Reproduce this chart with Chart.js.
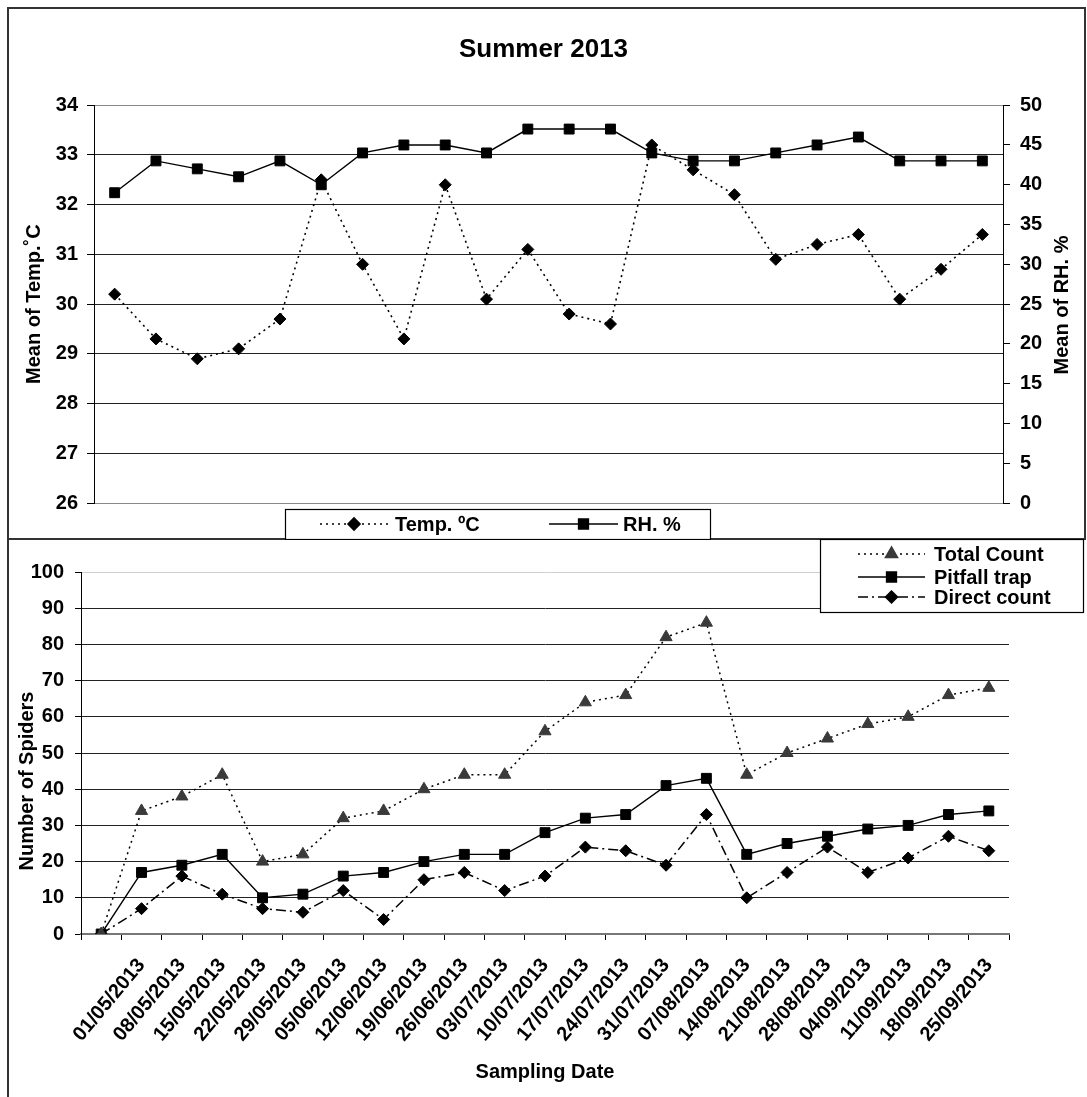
<!DOCTYPE html>
<html>
<head>
<meta charset="utf-8">
<script src="https://cdn.jsdelivr.net/npm/chart.js@4.4.1/dist/chart.umd.min.js"></script>
<style>
  html, body { margin: 0; padding: 0; background: #fff; }
  canvas { position: absolute; left: 0; }
  #c1 { top: 0; }
  #c2 { top: 539px; }
</style>
</head>
<body>
<canvas id="c1" width="1087" height="540"></canvas>
<canvas id="c2" width="1087" height="558"></canvas>
<script>
// sampling dates (weekly)
var dates = ["01/05/2013", "08/05/2013", "15/05/2013", "22/05/2013", "29/05/2013", "05/06/2013",
  "12/06/2013", "19/06/2013", "26/06/2013", "03/07/2013", "10/07/2013", "17/07/2013", "24/07/2013",
  "31/07/2013", "07/08/2013", "14/08/2013", "21/08/2013", "28/08/2013", "04/09/2013", "11/09/2013",
  "18/09/2013", "25/09/2013"];

// top chart
var tempC = [30.2, 29.3, 28.9, 29.1, 29.7, 32.5, 30.8, 29.3, 32.4, 30.1, 31.1, 29.8, 29.6, 33.2, 32.7, 32.2, 30.9, 31.2, 31.4, 30.1, 30.7, 31.4];
var rhPct = [39, 43, 42, 41, 43, 40, 44, 45, 45, 44, 47, 47, 47, 44, 43, 43, 44, 45, 46, 43, 43, 43];

// bottom chart (first point is the start, no date label)
var spiderLabels = [""].concat(dates);
var totalCount = [0, 34, 38, 44, 20, 22, 32, 34, 40, 44, 44, 56, 64, 66, 82, 86, 44, 50, 54, 58, 60, 66, 68];
var pitfall = [0, 17, 19, 22, 10, 11, 16, 17, 20, 22, 22, 28, 32, 33, 41, 43, 22, 25, 27, 29, 30, 33, 34];
var directCount = [0, 7, 16, 11, 7, 6, 12, 4, 15, 17, 12, 16, 24, 23, 19, 33, 10, 17, 24, 17, 21, 27, 23];

var FAM = '"Liberation Sans", Arial, sans-serif';
var f20 = { family: FAM, size: 20, weight: 'bold' };

// frame lines round the chart
var framePlugin = {
  id: 'frame',
  afterDraw: function (chart, args, opts) {
    var ctx = chart.ctx;
    ctx.save();
    ctx.strokeStyle = '#333';
    ctx.lineWidth = 2;
    ctx.beginPath();
    opts.lines.forEach(function (l) {
      ctx.moveTo(l[0], l[1]);
      ctx.lineTo(l[2], l[3]);
    });
    ctx.stroke();
    ctx.restore();
  }
};

// legend in a box, drawn from the dataset styles
var boxLegend = {
  id: 'boxLegend',
  afterDraw: function (chart, args, opts) {
    var ctx = chart.ctx;
    ctx.save();
    ctx.fillStyle = '#fff';
    ctx.fillRect(opts.box[0], opts.box[1], opts.box[2], opts.box[3]);
    ctx.strokeStyle = '#000';
    ctx.lineWidth = 1.2;
    ctx.strokeRect(opts.box[0] + 0.5, opts.box[1] + 0.5, opts.box[2], opts.box[3]);
    opts.items.forEach(function (it, i) {
      var ds = chart.data.datasets[i];
      ctx.beginPath();
      ctx.setLineDash(ds.borderDash || []);
      ctx.lineWidth = ds.borderWidth;
      ctx.strokeStyle = ds.borderColor;
      ctx.moveTo(it.x0, it.y);
      ctx.lineTo(it.x1, it.y);
      ctx.stroke();
      ctx.setLineDash([]);
      ctx.fillStyle = ds.pointBackgroundColor;
      ctx.strokeStyle = ds.pointBorderColor;
      Chart.helpers.drawPoint(ctx, { pointStyle: ds.pointStyle, radius: ds.pointRadius, borderWidth: 1, rotation: 0 }, (it.x0 + it.x1) / 2, it.y);
      ctx.fillStyle = '#000';
      ctx.font = 'bold 20px ' + FAM;
      ctx.textBaseline = 'middle';
      ctx.textAlign = 'left';
      ctx.fillText(ds.label, it.tx, it.y + 1);
    });
    ctx.restore();
  }
};

// axis titles read bottom-to-top, placed where the original has them
var sideTitle = {
  id: 'sideTitle',
  afterDraw: function (chart, args, opts) {
    var ctx = chart.ctx;
    opts.titles.forEach(function (t) {
      ctx.save();
      ctx.translate(t.x, t.y);
      ctx.rotate(-Math.PI / 2);
      ctx.font = 'bold 20px ' + FAM;
      ctx.fillStyle = '#000';
      ctx.textAlign = 'center';
      ctx.textBaseline = 'middle';
      ctx.fillText(t.text, 0, 0);
      ctx.restore();
    });
  }
};

function gridColor(lo, hi) {
  return function (c) {
    if (c.tick && (c.tick.value === hi || c.tick.value === lo)) return '#8a8a8a';
    return '#222';
  };
}

new Chart(document.getElementById('c1'), {
  type: 'line',
  plugins: [framePlugin, boxLegend, sideTitle],
  data: {
    labels: dates,
    datasets: [{
      label: 'Temp. ºC',
      data: tempC,
      yAxisID: 'y',
      borderColor: '#000',
      borderWidth: 1.6,
      borderDash: [2, 4],
      pointStyle: 'rectRot',
      pointRadius: 6,
      pointBackgroundColor: '#000',
      pointBorderColor: '#000',
      pointBorderWidth: 1
    }, {
      label: 'RH. %',
      data: rhPct,
      yAxisID: 'y1',
      borderColor: '#000',
      borderWidth: 1.4,
      pointStyle: 'rect',
      pointRadius: 7,
      pointBackgroundColor: '#000',
      pointBorderColor: '#000',
      pointBorderWidth: 1
    }]
  },
  options: {
    responsive: false,
    animation: false,
    layout: { padding: { left: 0, right: 0, top: 0, bottom: 37 } },
    plugins: {
      legend: { display: false },
      tooltip: { enabled: false },
      title: {
        display: true,
        text: 'Summer 2013',
        color: '#000',
        font: { family: FAM, size: 26, weight: 'bold' },
        padding: { top: 34, bottom: 40 }
      },
      frame: { lines: [[8, 8, 1085, 8], [8, 7, 8, 540], [1085, 7, 1085, 540], [7, 539, 1086, 539]] },
      boxLegend: {
        box: [285, 509, 425, 30],
        items: [{ x0: 320, x1: 388, tx: 395, y: 524 }, { x0: 549, x1: 618, tx: 623, y: 524 }]
      },
      sideTitle: { titles: [{ text: 'Mean of RH. %', x: 1062, y: 305 }] }
    },
    scales: {
      x: { display: false, offset: true },
      y: {
        position: 'left',
        min: 26, max: 34,
        ticks: { stepSize: 1, color: '#000', font: f20, padding: 9 },
        grid: { color: gridColor(26, 34), tickColor: '#000', tickLength: 7 },
        border: { color: '#000' },
        title: { display: true, text: 'Mean of Temp.˚C', color: '#000', font: f20, padding: { top: 22 } },
        afterFit: function (s) { s.width = 94; }
      },
      y1: {
        position: 'right',
        min: 0, max: 50,
        ticks: { stepSize: 5, color: '#000', font: f20, padding: 10 },
        grid: { drawOnChartArea: false, tickColor: '#000', tickLength: 7 },
        border: { color: '#000' },
        afterFit: function (s) { s.width = 84; }
      }
    }
  }
});

new Chart(document.getElementById('c2'), {
  type: 'line',
  plugins: [framePlugin, boxLegend, sideTitle],
  data: {
    labels: spiderLabels,
    datasets: [{
      label: 'Total Count',
      data: totalCount,
      borderColor: '#000',
      borderWidth: 1.5,
      borderDash: [2, 4],
      pointStyle: 'triangle',
      pointRadius: 7,
      pointBackgroundColor: '#3a3a3a',
      pointBorderColor: '#3a3a3a',
      pointBorderWidth: 1
    }, {
      label: 'Pitfall trap',
      data: pitfall,
      borderColor: '#000',
      borderWidth: 1.4,
      pointStyle: 'rect',
      pointRadius: 7,
      pointBackgroundColor: '#000',
      pointBorderColor: '#000',
      pointBorderWidth: 1
    }, {
      label: 'Direct count',
      data: directCount,
      borderColor: '#000',
      borderWidth: 1.5,
      borderDash: [10, 4, 2, 4],
      pointStyle: 'rectRot',
      pointRadius: 6,
      pointBackgroundColor: '#000',
      pointBorderColor: '#000',
      pointBorderWidth: 1
    }]
  },
  options: {
    responsive: false,
    animation: false,
    layout: { padding: { left: 0, right: 78, top: 33, bottom: 0 } },
    plugins: {
      legend: { display: false },
      tooltip: { enabled: false },
      frame: { lines: [[8, 0, 8, 558]] },
      boxLegend: {
        box: [820, 0, 263, 73],
        items: [
          { x0: 858, x1: 925, tx: 934, y: 15 },
          { x0: 858, x1: 925, tx: 934, y: 38 },
          { x0: 858, x1: 925, tx: 934, y: 58 }
        ]
      },
      sideTitle: { titles: [{ text: 'Number of Spiders', x: 27, y: 242 }] }
    },
    scales: {
      x: {
        offset: true,
        ticks: { color: '#000', font: f20, autoSkip: false, minRotation: 50, maxRotation: 50, padding: 14 },
        grid: { offset: true, drawOnChartArea: false, tickColor: '#000', tickLength: 6 },
        border: { color: '#777', width: 2 },
        title: { display: true, text: 'Sampling Date', color: '#000', font: f20, padding: { bottom: 13 } },
        afterFit: function (s) { s.height = 163; }
      },
      y: {
        min: 0, max: 100,
        ticks: { stepSize: 10, color: '#000', font: f20, padding: 11 },
        grid: { color: function (c) { return c.tick && c.tick.value === 100 ? '#cfcfcf' : '#222'; }, tickColor: '#000', tickLength: 6 },
        border: { color: '#000' },
        afterFit: function (s) { s.width = 81; }
      }
    }
  }
});
</script>
</body>
</html>
